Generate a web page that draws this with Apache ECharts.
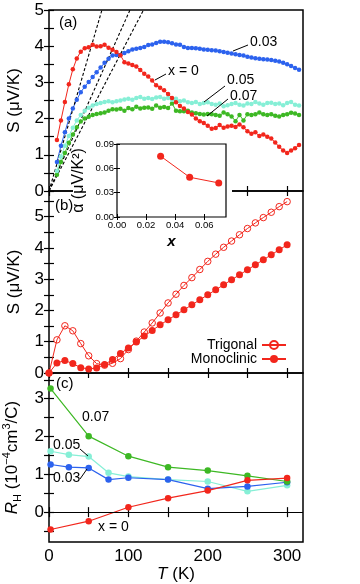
<!DOCTYPE html>
<html>
<head>
<meta charset="utf-8">
<script src="https://cdn.jsdelivr.net/npm/echarts@6/dist/echarts.min.js"></script>
<style>
html, body { margin: 0; padding: 0; background: #fff; }
#chart { width: 360px; height: 584px; }
</style>
</head>
<body>
<div id="chart"></div>
<script>
// ---- panel (a): S(T) for different x ----
const tA = [10,15,20,25,30,35,40,45,50,55,60,65,70,75,80,85,90,95,100,105,110,115,120,125,130,135,140,145,150,155,160,165,170,175,180,185,190,195,200,205,210,215,220,225,230,235,240,245,250,255,260,265,270,275,280,285,290,295,300,305,310,315];
const sX0 = [1.41,1.95,2.46,2.95,3.36,3.66,3.85,3.94,3.97,4.04,
    3.99,4.0,4.04,3.96,3.9,3.84,3.75,3.56,3.52,3.48,
    3.44,3.34,3.24,3.16,3.05,2.92,2.85,2.78,2.68,2.57,
    2.45,2.35,2.28,2.18,2.11,2.0,1.93,1.88,1.8,1.72,
    1.74,1.82,1.75,1.78,1.8,1.77,1.84,1.76,1.65,1.58,
    1.62,1.52,1.56,1.5,1.45,1.34,1.22,1.12,1.05,1.12,
    1.18,1.27];
const sX03 = [0.8,1.25,1.62,2.0,2.28,2.52,2.73,2.88,3.01,3.15,
    3.28,3.41,3.54,3.65,3.74,3.76,3.76,3.81,3.86,3.91,
    3.93,3.95,3.98,4.03,4.05,4.09,4.12,4.12,4.11,4.08,
    4.05,4.04,3.98,3.95,3.95,3.94,3.93,3.91,3.9,3.89,
    3.88,3.86,3.84,3.82,3.8,3.78,3.76,3.74,3.71,3.69,
    3.67,3.65,3.64,3.63,3.62,3.6,3.58,3.54,3.5,3.45,
    3.4,3.35];
const sX05 = [0.55,0.95,1.25,1.52,1.75,1.95,2.1,2.22,2.3,2.36,
    2.4,2.43,2.46,2.48,2.45,2.48,2.5,2.53,2.55,2.52,
    2.57,2.6,2.55,2.57,2.54,2.58,2.6,2.55,2.57,2.52,
    2.55,2.48,2.5,2.45,2.43,2.46,2.4,2.43,2.45,2.4,
    2.38,2.42,2.34,2.37,2.4,2.43,2.38,2.36,2.42,2.4,
    2.46,2.42,2.38,2.43,2.44,2.4,2.42,2.37,2.43,2.46,
    2.38,2.36];
const sX07 = [0.45,0.8,1.05,1.33,1.56,1.76,1.92,2.0,2.05,2.1,
    2.13,2.15,2.17,2.22,2.26,2.25,2.27,2.22,2.29,2.26,
    2.33,2.28,2.3,2.31,2.27,2.36,2.3,2.32,2.29,2.42,
    2.22,2.2,2.2,2.22,2.17,2.15,2.13,2.11,2.13,2.12,
    2.1,2.08,2.17,2.12,2.06,1.93,2.1,1.95,2.12,2.1,
    2.12,2.17,2.12,2.1,2.12,2.08,2.06,2.1,2.12,2.16,
    2.14,2.1];

// inset: alpha vs x
const xInset = [0.03, 0.05, 0.07];
const alphaInset = [0.075, 0.049, 0.042];

// ---- panel (b): trigonal vs monoclinic ----
const tB = [0,10,20,30,40,50,60,70,80,90,100,110,120,130,140,150,160,170,180,190,200,210,220,230,240,250,260,270,280,290,300];
const sTrig = [0,1.06,1.51,1.35,0.94,0.55,0.3,0.25,0.31,0.46,0.75,1.02,1.31,1.6,1.92,2.24,2.52,2.8,3.05,3.31,3.57,3.8,4.02,4.22,4.42,4.62,4.8,4.97,5.14,5.32,5.48];
const sMono = [0,0.32,0.4,0.3,0.17,0.13,0.16,0.27,0.43,0.62,0.8,0.99,1.18,1.36,1.54,1.7,1.86,2.02,2.18,2.34,2.5,2.66,2.82,2.98,3.14,3.3,3.46,3.62,3.78,3.94,4.1];

// ---- panel (c): Hall coefficient ----
const tC1 = [2,50,100,150,200,250,300];
const tC2 = [2,25,50,75,100,150,200,250,300];
const rhX0 = [-0.46,-0.24,0.13,0.37,0.57,0.84,0.9];
const rhX07 = [3.27,2.01,1.48,1.19,1.1,0.96,0.81];
const rhX05 = [1.61,1.52,1.47,1.04,0.94,0.86,0.81,0.55,0.71];
const rhX03 = [1.26,1.19,1.17,0.86,0.91,0.86,0.62,0.68,0.79];

// ticks
const tTicks = [0,50,100,150,200,250,300];
const tLabels = [0,100,200,300];
const sTicksA = [0,0.5,1,1.5,2,2.5,3,3.5,4,4.5,5];
const sLabelsA = [0,1,2,3,4,5];
const sTicksB = [0,0.5,1,1.5,2,2.5,3,3.5,4,4.5,5,5.5];
const sLabelsB = [0,1,2,3,4,5];
const rhTicks = [-0.5,0,0.5,1,1.5,2,2.5,3,3.5];
const rhLabels = [0,1,2,3];
const insetXTicks = [0,0.02,0.04,0.06];
const insetYTicks = [0,0.03,0.06,0.09];

const FONT = '"Liberation Sans", Arial, sans-serif';
const RED = '#f2261c';
const BLUE = '#2c62ee';
const CYAN = '#86efd6';
const GREEN = '#3db824';

const chart = echarts.init(document.getElementById('chart'));

function pairs(xs, ys) {
    return xs.map((x, i) => [x, ys[i]]);
}

function xAx(grid, pos, showLabel, extra) {
    return Object.assign({
        type: 'value', gridIndex: grid, position: pos, min: 0, max: 320,
        axisLine: { show: false }, splitLine: { show: false },
        axisTick: { inside: true, length: 5, customValues: tTicks, lineStyle: { color: '#000', width: 1.2 } },
        axisLabel: { show: showLabel, customValues: tLabels, color: '#000', fontSize: 17, fontFamily: FONT, margin: 6 }
    }, extra || {});
}

function yAx(grid, pos, min, max, ticks, labels, showLabel, extra) {
    return Object.assign({
        type: 'value', gridIndex: grid, position: pos, min: min, max: max,
        axisLine: { show: false }, splitLine: { show: false },
        axisTick: { inside: true, length: 5, customValues: ticks, lineStyle: { color: '#000', width: 1.2 } },
        axisLabel: { show: showLabel, customValues: labels, color: '#000', fontSize: 17, fontFamily: FONT, margin: 5 }
    }, extra || {});
}

const yName = {
    nameLocation: 'middle', nameRotate: 90, nameGap: 26,
    nameTextStyle: { color: '#000', fontSize: 17, fontFamily: FONT }
};

const INZ = 60;
const insetTick = { inside: true, length: 3, lineStyle: { color: '#000', width: 1 } };
const gridBase = { show: true, borderColor: '#000', borderWidth: 1.5, outerBoundsMode: 'none', containLabel: false };

const option = {
    animation: false,
    backgroundColor: '#fff',
    grid: [
        Object.assign({ left: 49, top: 10, width: 254, height: 181 }, gridBase),
        Object.assign({ left: 49, top: 191, width: 254, height: 182 }, gridBase),
        Object.assign({ left: 49, top: 373, width: 254, height: 169 }, gridBase),
        Object.assign({}, gridBase, { left: 117, top: 144, width: 109, height: 73, borderWidth: 1.2, backgroundColor: '#fff', z: INZ })
    ],
    xAxis: [
        xAx(0, 'bottom', false),
        xAx(0, 'top', false),
        xAx(1, 'bottom', false),
        xAx(1, 'top', false),
        xAx(2, 'bottom', true, {
            name: '{i|T} (K)', nameLocation: 'middle', nameGap: 24,
            nameTextStyle: { color: '#000', fontSize: 17, fontFamily: FONT,
                rich: { i: { fontStyle: 'italic', fontSize: 17, fontFamily: FONT } } }
        }),
        xAx(2, 'top', false),
        {
            type: 'value', gridIndex: 3, position: 'bottom', min: 0, max: 0.075, z: INZ,
            axisLine: { show: false }, splitLine: { show: false },
            axisTick: Object.assign({ customValues: insetXTicks }, insetTick),
            axisLabel: { customValues: insetXTicks, formatter: v => v.toFixed(2), color: '#000', fontSize: 9.5, fontFamily: FONT, margin: 3 },
            name: 'x', nameLocation: 'middle', nameGap: 17,
            nameTextStyle: { color: '#000', fontSize: 15, fontStyle: 'italic', fontWeight: 'bold', fontFamily: FONT }
        },
        {
            type: 'value', gridIndex: 3, position: 'top', min: 0, max: 0.075, z: INZ,
            axisLine: { show: false }, splitLine: { show: false },
            axisTick: Object.assign({ customValues: insetXTicks }, insetTick),
            axisLabel: { show: false }
        }
    ],
    yAxis: [
        yAx(0, 'left', 0, 5, sTicksA, sLabelsA, true, Object.assign({ name: 'S (\u03bcV/K)' }, yName)),
        yAx(0, 'right', 0, 5, sTicksA, sLabelsA, false),
        yAx(1, 'left', 0, 5.82, sTicksB, sLabelsB, true, Object.assign({ name: 'S (\u03bcV/K)' }, yName)),
        yAx(1, 'right', 0, 5.82, sTicksB, sLabelsB, false),
        yAx(2, 'left', -0.79, 3.68, rhTicks, rhLabels, true, Object.assign({}, yName, {
            name: '{i|R}{sub|H} (10{sup|\u22124}cm{sup|3}/C)',
            nameTextStyle: { color: '#000', fontSize: 17, fontFamily: FONT, lineHeight: 22,
                rich: {
                    i: { fontStyle: 'italic', fontSize: 17, fontFamily: FONT, lineHeight: 22 },
                    sub: { fontSize: 11, fontFamily: FONT, verticalAlign: 'bottom', lineHeight: 22 },
                    sup: { fontSize: 11, fontFamily: FONT, verticalAlign: 'top', lineHeight: 22 }
                } }
        })),
        yAx(2, 'right', -0.79, 3.68, rhTicks, rhLabels, false),
        {
            type: 'value', gridIndex: 3, position: 'left', min: 0, max: 0.09, z: INZ,
            axisLine: { show: false }, splitLine: { show: false },
            axisTick: Object.assign({ customValues: insetYTicks }, insetTick),
            axisLabel: { customValues: insetYTicks, formatter: v => v.toFixed(2), color: '#000', fontSize: 9.5, fontFamily: FONT, margin: 3 },
            name: '\u03b1 (\u03bcV/K\u00b2)', nameLocation: 'middle', nameRotate: 90, nameGap: 30,
            nameTextStyle: { color: '#000', fontSize: 16, fontFamily: FONT }
        },
        {
            type: 'value', gridIndex: 3, position: 'right', min: 0, max: 0.09, z: INZ,
            axisLine: { show: false }, splitLine: { show: false },
            axisTick: Object.assign({ customValues: insetYTicks }, insetTick),
            axisLabel: { show: false }
        }
    ],
    legend: {
        data: ['Trigonal', 'Monoclinic'],
        orient: 'vertical', align: 'right',
        right: 68, top: 333, itemGap: 0, itemWidth: 24, itemHeight: 10,
        textStyle: { color: '#000', fontSize: 14, fontFamily: FONT },
        selectedMode: false
    },
    series: [],
    graphic: { elements: [] }
};

// panel (a) curves
const aStyle = (name, data, color) => ({
    name: name, type: 'line', xAxisIndex: 0, yAxisIndex: 0, data: data,
    symbol: 'circle', symbolSize: 4.5,
    itemStyle: { color: color }, lineStyle: { color: color, width: 1 }
});
option.series.push(aStyle('a07', pairs(tA, sX07), GREEN));
option.series.push(aStyle('a05', pairs(tA, sX05), CYAN));
option.series.push(aStyle('a03', pairs(tA, sX03), BLUE));
option.series.push(aStyle('a0', pairs(tA, sX0), RED));

// dotted lines S = alpha * T, alpha from the inset
alphaInset.forEach((a, i) => {
    option.series.push({
        name: 'fit' + i, type: 'line', xAxisIndex: 0, yAxisIndex: 0,
        data: [[0, 0], [5 / a, 5]], symbol: 'none', silent: true,
        lineStyle: { color: '#000', width: 1.1, type: [3, 2] }
    });
});

// inset
option.series.push({
    name: 'alpha', type: 'line', xAxisIndex: 6, yAxisIndex: 6, z: INZ + 2,
    data: pairs(xInset, alphaInset), symbol: 'circle', symbolSize: 7,
    itemStyle: { color: RED }, lineStyle: { color: RED, width: 1 }
});

// panel (b)
option.series.push({
    name: 'Trigonal', type: 'line', xAxisIndex: 2, yAxisIndex: 2,
    data: pairs(tB, sTrig), symbol: 'circle', symbolSize: 6.5,
    itemStyle: { color: 'rgba(255,255,255,0)', borderColor: RED, borderWidth: 1 },
    lineStyle: { color: RED, width: 1 }
});
option.series.push({
    name: 'Monoclinic', type: 'line', xAxisIndex: 2, yAxisIndex: 2,
    data: pairs(tB, sMono), symbol: 'circle', symbolSize: 7,
    itemStyle: { color: RED }, lineStyle: { color: RED, width: 1 }
});

// panel (c)
const cStyle = (name, data, color) => ({
    name: name, type: 'line', xAxisIndex: 4, yAxisIndex: 4, data: data,
    symbol: 'circle', symbolSize: 6.5,
    itemStyle: { color: color }, lineStyle: { color: color, width: 1.2 }
});
option.series.push(cStyle('c05', pairs(tC2, rhX05), CYAN));
option.series.push(cStyle('c03', pairs(tC2, rhX03), BLUE));
option.series.push(cStyle('c07', pairs(tC1, rhX07), GREEN));
const c0 = cStyle('c0', pairs(tC1, rhX0), RED);
c0.markLine = {
    silent: true, symbol: 'none', label: { show: false },
    lineStyle: { color: '#000', width: 1, type: 'solid' },
    data: [{ yAxis: 0 }]
};
option.series.push(c0);

// white box behind inset and its labels
const g = option.graphic.elements;
g.push({ type: 'rect', shape: { x: 79, y: 140, width: 153, height: 96 }, style: { fill: '#fff' }, z: 50, silent: true });
g.push({ type: 'rect', shape: { x: 73, y: 185, width: 8, height: 12 }, style: { fill: '#fff' }, z: 50, silent: true });

function txt(text, x, y, size) {
    g.push({ type: 'text', x: x, y: y, z: 100, silent: true,
        style: { text: text, fill: '#000', font: size + 'px ' + FONT, verticalAlign: 'middle', align: 'left' } });
}
function lead(x1, y1, x2, y2) {
    g.push({ type: 'line', z: 100, silent: true, shape: { x1: x1, y1: y1, x2: x2, y2: y2 },
        style: { stroke: '#000', lineWidth: 1 } });
}
txt('(a)', 59, 23, 15);
txt('(b)', 55, 206, 15);
txt('(c)', 56, 384, 15);
txt('x = 0', 168, 71, 14);
lead(166, 74, 155, 80);
txt('0.03', 250, 42, 14);
lead(248, 45, 233, 51);
txt('0.05', 227, 80, 14);
lead(225, 86, 204, 102);
txt('0.07', 230, 96, 14);
lead(228, 99, 207, 116);
txt('0.07', 82, 417, 14);
txt('0.05', 53, 445, 14);
lead(80, 449, 88, 456);
txt('0.03', 53, 478, 14);
lead(80, 479, 87, 469);
txt('x = 0', 98, 527, 14);

chart.setOption(option);
</script>
</body>
</html>
